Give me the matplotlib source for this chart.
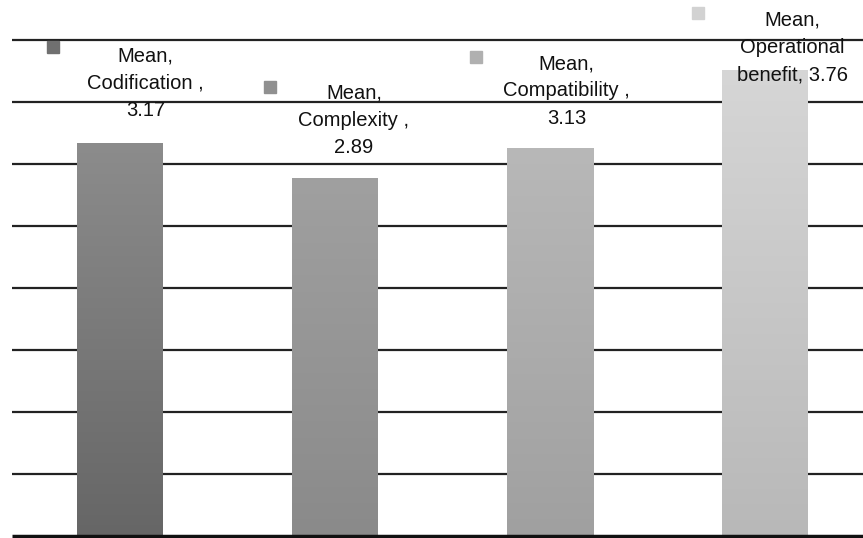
import numpy as np
from matplotlib import pyplot as plt
from matplotlib.colors import LinearSegmentedColormap

plt.rcParams['font.family'] = ['Liberation Sans', 'DejaVu Sans']

categories = ["Codification ", "Complexity ", "Compatibility ", "Operational\nbenefit"]
values = [3.17, 2.89, 3.13, 3.76]
label_texts = ["Mean,\nCodification ,\n3.17", "Mean,\nComplexity ,\n2.89",
               "Mean,\nCompatibility ,\n3.13", "Mean,\nOperational\nbenefit, 3.76"]

# gradient colours per bar (top, bottom)
grad_top = ["#8c8c8c", "#a0a0a0", "#b8b8b8", "#d6d6d6"]
grad_bottom = ["#666666", "#8a8a8a", "#a0a0a0", "#b8b8b8"]
key_colors = ["#707070", "#909090", "#b0b0b0", "#d2d2d2"]

# label placement (data coords): text centre and legend key
text_xy = [(0.12, 3.65), (1.09, 3.35), (2.08, 3.59), (3.13, 3.94)]
key_xy = [(-0.31, 3.94), (0.70, 3.62), (1.66, 3.86), (2.69, 4.22)]

fig = plt.figure(figsize=(8.63, 5.38), dpi=100)
ax = fig.add_axes([12 / 863, 2 / 538, 860 / 863, 496 / 538])
ax.set_xlim(-0.5, 3.5)
ax.set_ylim(0, 4)

# horizontal gridlines
for yv in np.arange(0.5, 4.01, 0.5):
    ax.axhline(yv, color="#222222", lw=1.6, zorder=1, clip_on=False,
               solid_capstyle="butt")
ax.axhline(0, color="#111111", lw=2.5, zorder=3, clip_on=False,
           solid_capstyle="butt")

x = np.arange(len(values))
bars = ax.bar(x, values, width=0.4, color="none", zorder=2)
for b, top, bot in zip(bars, grad_top, grad_bottom):
    cmap = LinearSegmentedColormap.from_list("g", [bot, top])
    grad = np.linspace(0, 1, 256).reshape(-1, 1)
    x0, y0 = b.get_x(), b.get_y()
    im = ax.imshow(grad, cmap=cmap, origin="lower", aspect="auto",
                   extent=(x0, x0 + b.get_width(), y0, y0 + b.get_height()),
                   zorder=2)
    im.set_clip_path(b)
ax.set_xlim(-0.5, 3.5)
ax.set_ylim(0, 4)

for txt, (tx, ty), (kx, ky), kc in zip(label_texts, text_xy, key_xy, key_colors):
    ax.text(tx, ty, txt, ha="center", va="center", fontsize=14.5,
            linespacing=1.55, color="#111111", zorder=4, clip_on=False)
    ax.plot(kx, ky, marker="s", ms=8, color=kc, mec=kc, zorder=4, clip_on=False)

ax.set_xticks([])
ax.set_yticks([])
for s in ax.spines.values():
    s.set_visible(False)

fig.savefig("out.png", dpi=100)
